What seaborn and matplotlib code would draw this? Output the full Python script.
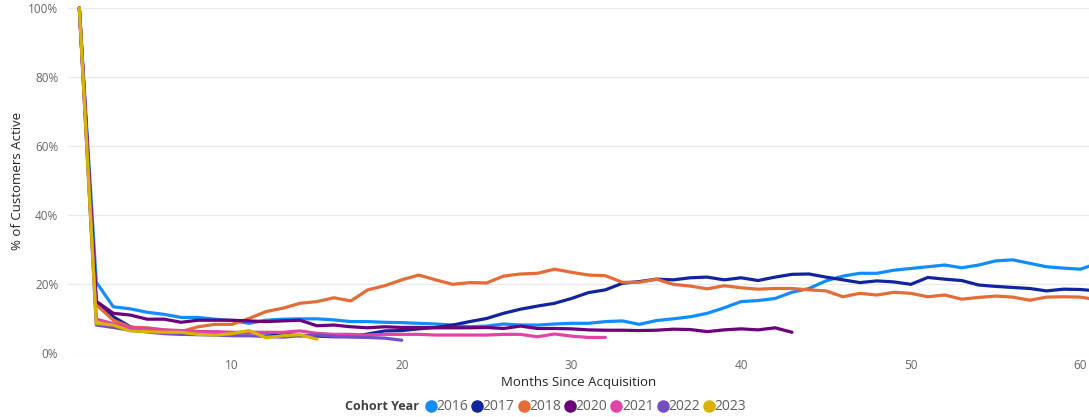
import matplotlib
matplotlib.use("Agg")
import matplotlib.pyplot as plt
from matplotlib.lines import Line2D
from matplotlib.ticker import FuncFormatter
import seaborn as sns
import pandas as pd

# Share of each acquisition cohort still active, by month since acquisition (%)
cohort_years = ["2016", "2017", "2018", "2020", "2021", "2022", "2023"]

active_2016 = [100, 20.5, 13.4, 12.8, 11.8, 11.2, 10.3, 10.3, 9.8, 9.4,
               8.6, 9.5, 9.8, 9.9, 9.9, 9.6, 9.1, 9.1, 8.9, 8.8,
               8.6, 8.4, 8.1, 7.6, 7.8, 8.4, 8.1, 8.1, 8.4, 8.6,
               8.6, 9.1, 9.3, 8.3, 9.4, 9.9, 10.5, 11.5, 13.1, 14.9,
               15.2, 15.8, 17.6, 18.7, 20.9, 22.3, 23.1, 23.1, 24.0, 24.5,
               25.0, 25.5, 24.7, 25.5, 26.7, 27.0, 26.0, 25.0, 24.6, 24.3,
               26.0]
active_2017 = [100, 14.6, 10.5, 7.6, 6.4, 5.8, 5.6, 6.0, 6.0, 5.8,
               6.0, 5.8, 5.5, 5.0, 4.9, 4.7, 4.8, 5.5, 6.4, 6.5,
               7.0, 7.4, 8.1, 9.1, 10.0, 11.5, 12.7, 13.6, 14.4, 15.8,
               17.5, 18.3, 20.2, 20.7, 21.4, 21.2, 21.8, 22.0, 21.2, 21.8,
               21.0, 22.0, 22.8, 22.9, 22.0, 21.2, 20.4, 20.9, 20.6, 19.9,
               21.9, 21.4, 21.0, 19.7, 19.3, 19.0, 18.7, 18.0, 18.5, 18.4,
               18.0]
active_2018 = [100, 14.0, 9.5, 7.5, 7.3, 6.7, 6.2, 7.6, 8.3, 8.3,
               10.0, 12.0, 13.0, 14.4, 14.9, 16.0, 15.1, 18.3, 19.5, 21.2,
               22.6, 21.2, 19.9, 20.4, 20.3, 22.3, 22.9, 23.1, 24.3, 23.4,
               22.6, 22.4, 20.5, 20.5, 21.4, 19.9, 19.4, 18.6, 19.5, 18.9,
               18.5, 18.7, 18.7, 18.3, 18.0, 16.3, 17.3, 16.8, 17.6, 17.3,
               16.3, 16.8, 15.6, 16.1, 16.5, 16.2, 15.3, 16.2, 16.3, 16.2,
               15.4]
active_2020 = [100, 15.0, 11.5, 11.0, 9.8, 9.8, 8.9, 9.5, 9.5, 9.5,
               9.3, 9.1, 9.3, 9.5, 7.9, 8.1, 7.6, 7.3, 7.6, 7.4,
               7.4, 7.3, 7.3, 7.3, 7.4, 7.1, 7.8, 7.1, 7.1, 7.0,
               6.7, 6.6, 6.6, 6.5, 6.6, 6.9, 6.8, 6.2, 6.7, 7.0,
               6.7, 7.3, 6.0]
active_2021 = [100, 9.8, 8.5, 7.3, 7.1, 6.7, 6.5, 6.2, 6.2, 6.0,
               6.0, 6.0, 6.0, 6.4, 5.7, 5.4, 5.4, 5.2, 5.4, 5.4,
               5.4, 5.2, 5.2, 5.2, 5.2, 5.4, 5.4, 4.7, 5.5, 4.9,
               4.5, 4.5]
active_2022 = [100, 8.1, 7.4, 6.6, 6.1, 5.6, 5.4, 5.3, 5.2, 5.0,
               5.0, 4.8, 4.6, 5.0, 5.2, 4.8, 4.6, 4.5, 4.3, 3.7]
active_2023 = [100, 8.6, 8.1, 6.4, 6.2, 6.0, 6.0, 5.4, 5.2, 5.6,
               6.5, 4.4, 5.0, 5.3, 4.0]

series = [active_2016, active_2017, active_2018, active_2020,
          active_2021, active_2022, active_2023]
colors = ["#118DFF", "#12239E", "#E66C37", "#6B007B",
          "#E044A7", "#744EC2", "#D9B300"]
palette = dict(zip(cohort_years, colors))

rows = []
for year, values in zip(cohort_years, series):
    for month, pct in enumerate(values, start=1):
        rows.append({"Months Since Acquisition": month,
                     "Active": pct / 100.0,
                     "Cohort Year": year})
df = pd.DataFrame(rows)

sns.set_theme(style="white")
plt.rcParams["font.family"] = ["Open Sans", "DejaVu Sans"]

fig = plt.figure(figsize=(10.89, 4.17), dpi=100)
ax = fig.add_axes([0.0624, 0.1535, 0.9376, 0.8273])

sns.lineplot(data=df, x="Months Since Acquisition", y="Active",
             hue="Cohort Year", hue_order=cohort_years, palette=palette,
             linewidth=2.3, legend=False, ax=ax, clip_on=False)

ax.set_xlim(0.33, 60.5)
ax.set_ylim(0, 1.0)
ax.set_xticks([10, 20, 30, 40, 50, 60])
ax.set_yticks([0, 0.2, 0.4, 0.6, 0.8, 1.0])
ax.yaxis.set_major_formatter(FuncFormatter(lambda v, _: f"{v * 100:.0f}%"))
ax.grid(axis="y", color="#EAEAEA", linewidth=0.9)
ax.set_axisbelow(True)
for side in ax.spines.values():
    side.set_visible(False)
ax.tick_params(axis="both", length=0, labelsize=8.5, labelcolor="#666666")
ax.tick_params(axis="y", pad=7)
ax.tick_params(axis="x", pad=4)

ax.set_xlabel("Months Since Acquisition", fontsize=9.5, color="#252423",
              labelpad=3)
ax.set_ylabel("% of Customers Active", fontsize=9.5, color="#252423",
              labelpad=3)

fig.text(345 / 1089, 10 / 417, "Cohort Year", fontsize=9, fontweight="bold",
         color="#404040", ha="left", va="center")
handles = [Line2D([], [], marker="o", linestyle="none", markersize=8,
                  markerfacecolor=c, markeredgecolor=c) for c in colors]
fig.legend(handles, cohort_years, loc="center left",
           bbox_to_anchor=(426 / 1089, 10 / 417), ncol=len(cohort_years),
           frameon=False, fontsize=10, handlelength=0.7, handletextpad=0.05,
           columnspacing=0.3, labelcolor="#605E5C", borderaxespad=0,
           borderpad=0)

fig.savefig("out.png", dpi=100)
